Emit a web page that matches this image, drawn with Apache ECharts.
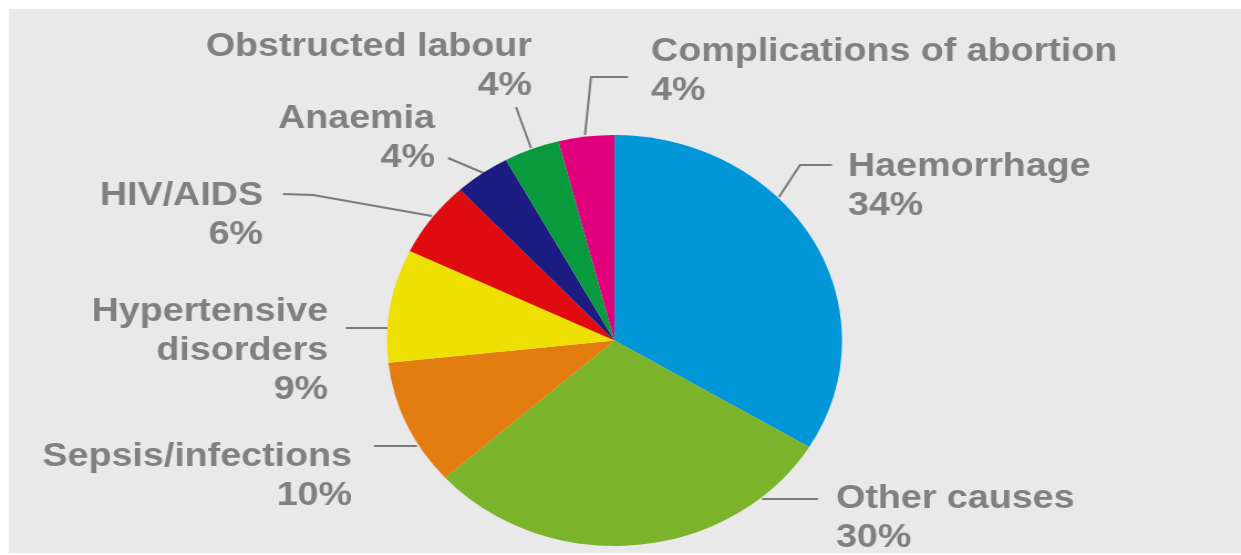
<!DOCTYPE html>
<html>
<head>
<meta charset="utf-8">
<title>Causes of maternal deaths</title>
<script src="https://cdn.jsdelivr.net/npm/echarts@6/dist/echarts.min.js"></script>
<style>
  html, body { margin: 0; padding: 0; background: #ffffff; overflow: hidden; }
  /* The figure is drawn slightly wide: the whole canvas is stretched horizontally */
  #chart { width: 1121px; height: 555px; transform: scaleX(1.107); transform-origin: 0 0; }
</style>
</head>
<body>
<div id="chart"></div>
<script>
// Causes of maternal deaths, share in percent
const categories = [
  'Haemorrhage',
  'Other causes',
  'Sepsis/infections',
  'Hypertensive\ndisorders',
  'HIV/AIDS',
  'Anaemia',
  'Obstructed labour',
  'Complications of abortion'
];
const shares = [34, 30, 10, 9, 6, 4, 4, 4];
const colors = ['#0096d7', '#7bb32b', '#e47d10', '#efe004', '#e00b0e', '#1b1b82', '#0a9a3e', '#e0007b'];

// Horizontal stretch applied to the chart container
const SX = 1.107;

// Where each label sits (page pixels) and the path of its leader line
const labelPlaces = [
  { x: 848, top: 147, align: 'left',  line: [[779, 197], [800, 165], [832, 165]] },
  { x: 836, top: 479, align: 'left',  line: [[762, 499], [818, 499]] },
  { x: 352, top: 437, align: 'right', line: [[417, 446], [374, 446]] },
  { x: 328, top: 292, align: 'right', line: [[389, 328], [346, 328]] },
  { x: 263, top: 176, align: 'right', line: [[432, 216], [313, 195], [283, 194]] },
  { x: 435, top: 99,  align: 'right', line: [[486, 174], [448, 158]] },
  { x: 532, top: 27,  align: 'right', line: [[531, 148], [516, 107]] },
  { x: 651, top: 32,  align: 'left',  line: [[585, 135], [591, 77], [628, 77]] }
];

const chart = echarts.init(document.getElementById('chart'), null, { renderer: 'canvas' });

const option = {
  animation: false,
  backgroundColor: 'transparent',
  graphic: [{
    type: 'rect',
    z: -10,
    silent: true,
    shape: { x: 9 / SX, y: 9, width: (1241 - 9) / SX, height: 544 },
    style: { fill: '#e9e9e9' }
  }],
  series: [{
    type: 'pie',
    center: [614.5 / SX, 340.5],
    radius: 205.5,
    startAngle: 90,
    clockwise: true,
    avoidLabelOverlap: false,
    silent: true,
    emphasis: { disabled: true },
    itemStyle: { borderWidth: 0 },
    label: {
      show: true,
      formatter: p => p.name + '\n' + p.value + '%',
      color: '#808080',
      fontFamily: 'Liberation Sans, Arial, sans-serif',
      fontWeight: 'bold',
      fontSize: 34,
      lineHeight: 39
    },
    labelLine: {
      show: true,
      lineStyle: { color: '#7a7a7a', width: 2 }
    },
    labelLayout: params => {
      const L = labelPlaces[params.dataIndex];
      return {
        x: L.x / SX,
        y: L.top,
        align: L.align,
        verticalAlign: 'top',
        labelLinePoints: L.line.map(([x, y]) => [x / SX, y])
      };
    },
    data: categories.map((name, i) => ({
      name: name,
      value: shares[i],
      itemStyle: { color: colors[i] }
    }))
  }]
};

chart.setOption(option);
</script>
</body>
</html>
